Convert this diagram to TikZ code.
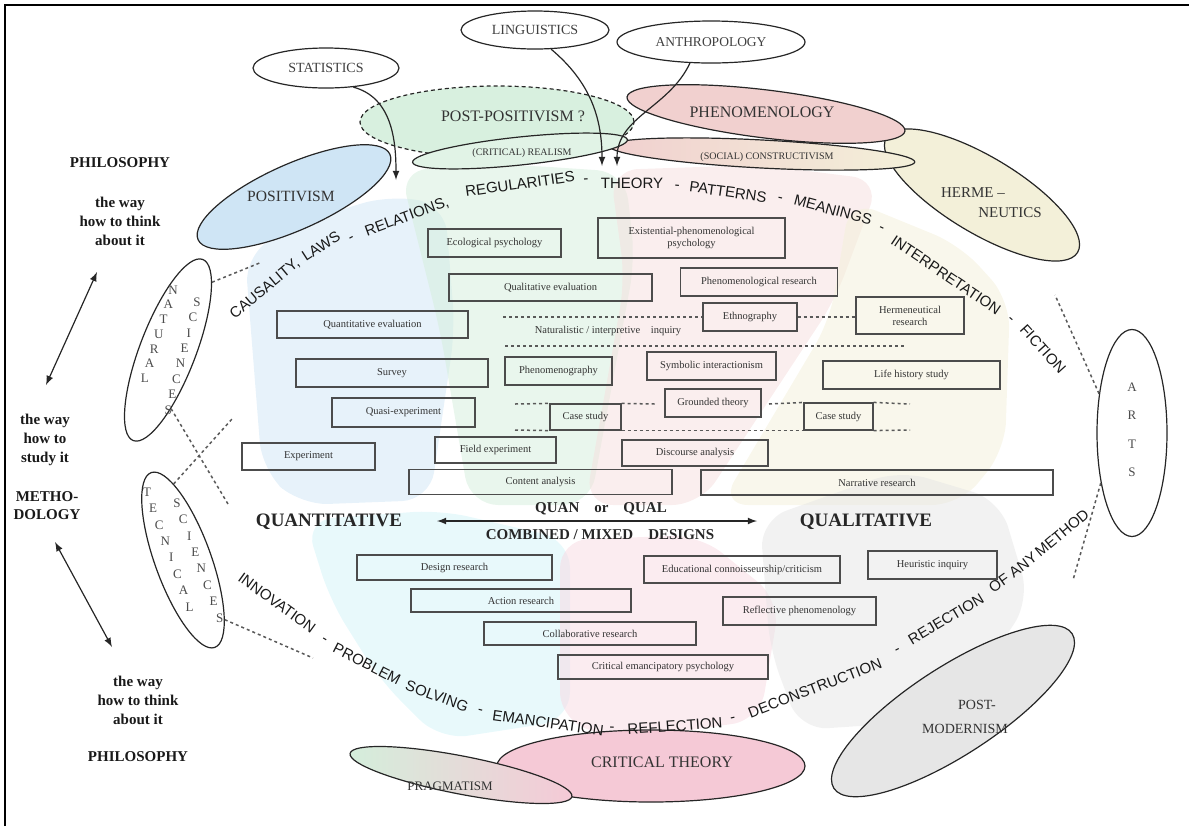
\documentclass[tikz,border=0pt]{standalone}
\usepackage{fontspec}
\setmainfont{Liberation Serif}
\newfontfamily\arcfont{Liberation Sans}
\usetikzlibrary{shapes,arrows}

\definecolor{posblue}{HTML}{CFE5F5}
\definecolor{ppgreen}{HTML}{D4EEDB}
\definecolor{phpink}{HTML}{F1D0CF}
\definecolor{hecream}{HTML}{F3F0D9}
\definecolor{pmgray}{HTML}{E6E6E6}
\definecolor{ctpink}{HTML}{F5C9D6}
\definecolor{cyanw}{HTML}{D2F3F8}

\tikzset{
  boxsize/.style 2 args={minimum width=#1*0.5pt, minimum height=#2*0.5pt},
  wedge/.style={draw=none, fill opacity=0.5, rounded corners=14pt},
  phil/.style={ellipse, draw=black!85, line width=0.6pt, inner sep=0pt},
  disc/.style={ellipse, draw=black!85, line width=0.6pt, inner sep=0pt, fill=white, font=\fontsize{7}{8}\selectfont, text=black!75},
  elbl/.style={font=\fontsize{7.5}{8.5}\selectfont, text=black!80, align=center, inner sep=0pt},
  mbox/.style={draw=black!70, line width=0.6pt, inner sep=0.5pt, align=center, text=black!80, font=\fontsize{5.25}{6}\selectfont},
  dotline/.style={line width=0.75pt, black!65, dash pattern=on 1.5pt off 1.5pt},
  sidetxt/.style={font=\bfseries\fontsize{7.5}{9.5}\selectfont, align=center, text=black!90},
  letter/.style={font=\fontsize{6.5}{6.5}\selectfont, text=black!70, inner sep=0pt},
  arcword/.style={font=\arcfont\fontsize{7.5}{7.5}\selectfont, text=black!90, inner sep=0pt},
  midtxt/.style={font=\bfseries\fontsize{7.5}{8.5}\selectfont, text=black!85},
  bigtxt/.style={font=\bfseries\fontsize{9.5}{10.5}\selectfont, text=black!85},
  arr/.style={-latex, line width=0.6pt, black!85},
  dblarr/.style={latex-latex, line width=0.6pt, black!85}
}

\begin{document}
\begin{tikzpicture}[x=0.5pt,y=-0.5pt]
\useasboundingbox (0,0) rectangle (1189,826);
\draw[line width=0.75pt] (5,826) -- (5,5) -- (1189,5);

\fill[wedge, fill=posblue] (245,255) -- (300,222) -- (390,195) -- (445,205) -- (455,330) -- (430,500) -- (300,505) -- (262,470) -- cycle;
\fill[wedge, fill=ppgreen] (400,170) -- (520,165) -- (625,172) -- (635,260) -- (590,505) -- (470,505) -- (440,330) -- cycle;
\fill[wedge, fill=phpink!70] (610,170) -- (760,165) -- (880,180) -- (835,300) -- (700,505) -- (585,505) -- (625,280) -- cycle;
\fill[wedge, fill=hecream] (850,200) -- (960,245) -- (1010,300) -- (1005,450) -- (960,505) -- (720,505) -- (830,320) -- cycle;
\fill[wedge, fill=cyanw] (305,520) -- (440,510) -- (570,540) -- (570,720) -- (440,740) -- (380,680) -- (330,600) -- cycle;
\fill[wedge, fill=ctpink!70] (560,540) -- (700,535) -- (780,600) -- (760,720) -- (620,740) -- (560,720) -- cycle;
\fill[wedge, fill=pmgray] (760,520) -- (900,470) -- (1000,500) -- (1030,600) -- (950,720) -- (800,730) -- (770,650) -- cycle;

\node[phil, fill=hecream, rotate=-31, boxsize={223}{76}] (herm) at (982,195) {};
\node[phil, fill=phpink, rotate=-7, boxsize={280}{48}] (phenom) at (766,114) {};
\node[phil, left color=phpink, right color=hecream, rotate=-3, boxsize={306}{28}] (constr) at (762,154) {};
\node[phil, fill=posblue, rotate=24, boxsize={210}{66}] (posit) at (294,197) {};
\node[phil, fill=ppgreen, fill opacity=0.9, dash pattern=on 2pt off 1.5pt, boxsize={274}{72}] (postpos) at (497,122) {};
\node[phil, fill=ppgreen!70!white, rotate=6, boxsize={216}{28}] (realism) at (520,151) {};

\node[elbl] (herm-a) at (973,193) {HERME –};
\node[elbl] (herm-b) at (1010,213) {NEUTICS};
\node[elbl, font=\fontsize{8}{9}\selectfont] (phenom-t) at (762,112) {PHENOMENOLOGY};
\node[elbl, font=\fontsize{5}{6}\selectfont] (constr-t) at (767,157) {(SOCIAL) CONSTRUCTIVISM};
\node[elbl, font=\fontsize{7.8}{9}\selectfont] (posit-t) at (291,196) {POSITIVISM};
\node[elbl, font=\fontsize{8}{9}\selectfont] (postpos-t) at (513,116) {POST-POSITIVISM ?};
\node[elbl, font=\fontsize{5}{6}\selectfont] (realism-t) at (522,153) {(CRITICAL) REALISM};

\node[disc, boxsize={146}{40}] (stat) at (326,68) {STATISTICS};
\node[disc, boxsize={148}{38}] (ling) at (535,30) {LINGUISTICS};
\node[disc, font=\fontsize{6.75}{8}\selectfont, boxsize={188}{42}] (anthro) at (711,42) {ANTHROPOLOGY};
\coordinate (stat-tip) at (396,180);
\coordinate (ling-tip) at (602,166);
\coordinate (anthro-tip) at (617,166);
\draw[arr] (stat.-35) to[out=-15, in=90] (stat-tip);
\draw[arr] (ling.-50) to[out=-40, in=90] (ling-tip);
\draw[arr] (anthro.-135) to[out=-115, in=90] (anthro-tip);

\node[phil, fill=white, rotate=69, boxsize={194}{56}] (natsci) at (168,350) {};
\node[phil, fill=white, rotate=-70, boxsize={186}{56}] (techsci) at (183,560) {};
\node[phil, fill=white, boxsize={70}{207}] (arts) at (1132,433) {};
\foreach \ch [count=\i] in {N,A,T,U,R,A,L}
  \node[letter] (nat\i) at ({173-4.7*(\i-1)},{290+14.7*(\i-1)}) {\ch};
\foreach \ch [count=\i] in {S,C,I,E,N,C,E,S}
  \node[letter] (nsci\i) at ({197-4.1*(\i-1)},{302+15.4*(\i-1)}) {\ch};
\foreach \ch [count=\i] in {T,E,C,N,I,C,A,L}
  \node[letter] (tec\i) at ({147+6.1*(\i-1)},{492+16.4*(\i-1)}) {\ch};
\foreach \ch [count=\i] in {S,C,I,E,N,C,E,S}
  \node[letter] (tsci\i) at ({177+6.1*(\i-1)},{503+16.4*(\i-1)}) {\ch};
\foreach \ch [count=\i] in {A,R,T,S}
  \node[letter] (art\i) at (1132,{387+28.5*(\i-1)}) {\ch};

\coordinate (ns-out) at (262,262);
\coordinate (ns-low) at (228,504);
\coordinate (ts-up) at (232,419);
\coordinate (ts-out) at (313,658);
\coordinate (arts-up) at (1055,295);
\coordinate (arts-low) at (1073,580);
\draw[dotline] (natsci.-12) -- (ns-out);
\draw[dotline] (natsci.204) -- (ns-low);
\draw[dotline] (techsci.167) -- (ts-up);
\draw[dotline] (techsci.15) -- (ts-out);
\draw[dotline] (arts.130) -- (arts-up);
\draw[dotline] (arts.-122) -- (arts-low);

\node[phil, fill=ctpink, boxsize={308}{72}] (crittheory) at (651,766) {};
\node[phil, left color=ppgreen, right color=ctpink, rotate=-11, boxsize={226}{38}] (pragm) at (461,775) {};
\node[phil, fill=pmgray, rotate=33, boxsize={284}{88}] (postmod) at (953,711) {};
\node[elbl, font=\fontsize{8}{9}\selectfont] (crittheory-t) at (662,762) {CRITICAL THEORY};
\node[elbl, font=\fontsize{6.5}{7.5}\selectfont] (pragm-t) at (450,786) {PRAGMATISM};
\node[elbl, font=\fontsize{7}{8}\selectfont] (postmod-a) at (977,705) {POST-};
\node[elbl, font=\fontsize{7}{8}\selectfont] (postmod-b) at (965,729) {MODERNISM};

\node[mbox, boxsize={133}{28}] (ecol) at (494.5,243) {Ecological psychology};
\node[mbox, boxsize={187}{40}] (exist) at (691.5,238) {Existential-phenomenological\\psychology};
\node[mbox, boxsize={203}{27}] (qualeval) at (550.5,287.5) {Qualitative evaluation};
\node[mbox, boxsize={157}{28}] (phenres) at (759,282) {Phenomenological research};
\node[mbox, boxsize={191}{27}] (quanteval) at (372.5,324.5) {Quantitative evaluation};
\node[mbox, boxsize={94}{28}] (ethno) at (750,317) {Ethnography};
\node[mbox, boxsize={108}{37}] (hermres) at (910,315.5) {Hermeneutical\\research};
\node[mbox, boxsize={192}{28}] (survey) at (392,373) {Survey};
\node[mbox, boxsize={107}{28}] (phenog) at (558.5,371) {Phenomenography};
\node[mbox, boxsize={129}{28}] (symb) at (711.5,366) {Symbolic interactionism};
\node[mbox, boxsize={177}{28}] (life) at (911.5,375) {Life history study};
\node[mbox, boxsize={143}{29}] (quasi) at (403.5,412.5) {Quasi-experiment};
\node[mbox, boxsize={96}{28}] (grounded) at (713,403) {Grounded theory};
\node[mbox, boxsize={71}{26}] (caseA) at (585.5,417) {Case study};
\node[mbox, boxsize={69}{27}] (caseB) at (838.5,416.5) {Case study};
\node[mbox, boxsize={133}{27}] (exper) at (308.5,456.5) {Experiment};
\node[mbox, boxsize={121}{26}] (field) at (495.5,450) {Field experiment};
\node[mbox, boxsize={146}{26}] (discourse) at (695,453) {Discourse analysis};
\node[mbox, boxsize={263}{25}] (content) at (540.5,482) {Content analysis};
\node[mbox, boxsize={352}{25}] (narrative) at (877,482.5) {Narrative research};
\node[mbox, boxsize={195}{25}] (design) at (454.5,567.5) {Design research};
\node[mbox, boxsize={196}{27}] (educ) at (742,569.5) {Educational connoisseurship/criticism};
\node[mbox, boxsize={129}{28}] (heur) at (932.5,565) {Heuristic inquiry};
\node[mbox, boxsize={220}{23}] (action) at (521,600.5) {Action research};
\node[mbox, boxsize={153}{28}] (reflect) at (799.5,611) {Reflective phenomenology};
\node[mbox, boxsize={212}{23}] (collab) at (590,633.5) {Collaborative research};
\node[mbox, boxsize={210}{24}] (critemanc) at (663,667) {Critical emancipatory psychology};

\coordinate (nat-l1) at (503,317);
\coordinate (nat-l2) at (505,346);
\coordinate (nat-r2) at (905,346);
\draw[dotline] (nat-l1) -- (ethno.west);
\draw[dotline] (ethno.east) -- (ethno.east -| hermres.west);
\draw[dotline] (nat-l2) -- (nat-r2);
\node[font=\fontsize{5.25}{6}\selectfont, text=black!80] (natinq) at (608,331) {Naturalistic / interpretive\quad inquiry};

\coordinate (cs-l1) at (515,404);
\coordinate (cs-l2) at (515,430);
\coordinate (cs-m1) at (655,404);
\coordinate (cs-m2) at (769,404);
\coordinate (cs-r1) at (910,404);
\coordinate (cs-r2) at (910,430);
\draw[dotline] (cs-l1) -- (caseA.north west);
\draw[dotline] (caseA.north east) -- (cs-m1);
\draw[dotline] (cs-m2) -- (caseB.north west);
\draw[dotline] (caseB.north east) -- (cs-r1);
\draw[dotline] (cs-l2) -- (caseA.south west);
\draw[dotline] (caseA.south east) -- (caseB.south west);
\draw[dotline] (caseB.south east) -- (cs-r2);

\node[bigtxt] (quant) at (329,522) {QUANTITATIVE};
\node[bigtxt] (qual) at (866,522) {QUALITATIVE};
\node[midtxt] (quanqual) at (601,509) {QUAN\quad or\quad QUAL};
\node[midtxt] (mixed) at (600,535) {COMBINED / MIXED\quad DESIGNS};
\coordinate (mix-l) at (437,521);
\coordinate (mix-r) at (757,521);
\draw[dblarr] (mix-l) -- (mix-r);

\node[sidetxt] (philtop) at (120,163) {PHILOSOPHY};
\node[sidetxt] (thinktop) at (120,221) {the way\\how to think\\about it};
\node[sidetxt] (study) at (45,440) {the way\\how to\\study it};
\node[sidetxt, font=\bfseries\fontsize{7.5}{9}\selectfont] (method) at (47,506) {METHO-\\DOLOGY};
\node[sidetxt] (thinkbot) at (138,700) {the way\\how to think\\about it};
\node[sidetxt] (philbot) at (138,757) {PHILOSOPHY};
\coordinate (up-a) at (97,272);
\coordinate (up-b) at (46,385);
\coordinate (lo-a) at (55,542);
\coordinate (lo-b) at (112,647);
\draw[dblarr] (up-a) -- (up-b);
\draw[dblarr] (lo-a) -- (lo-b);

\foreach \w/\x/\y/\r [count=\i] in {{CAUSALITY,}/265/289/40, LAWS/321/246/33, -/352/239/28,
    {RELATIONS,}/407/217/20, REGULARITIES/520/184/8, -/586/181/3, THEORY/632/183/0,
    -/677/187/-5, PATTERNS/728/192/-8, -/780/200/-12, MEANINGS/833/210/-15, -/881/229/-25,
    INTERPRETATION/946/275/-34, -/1010/320/-40, FICTION/1043/349/-48}
  \node[arcword, rotate=\r] (up\i) at (\x,\y) {\w};
\foreach \w/\x/\y/\r [count=\i] in {INNOVATION/277/603/-36, -/324/641/-31, PROBLEM/367/664/-27,
    SOLVING/437/696/-20, -/480/712/-14, EMANCIPATION/548/723/-8, -/612/729/-2,
    REFLECTION/675/726/4, -/733/720/12, DECONSTRUCTION/815/688/21, -/898/651/27,
    REJECTION/946/619/31, OF/999/583/35, ANY/1023/565/37, METHOD/1062/533/40}
  \node[arcword, rotate=\r] (lo\i) at (\x,\y) {\w};
\end{tikzpicture}
\end{document}
